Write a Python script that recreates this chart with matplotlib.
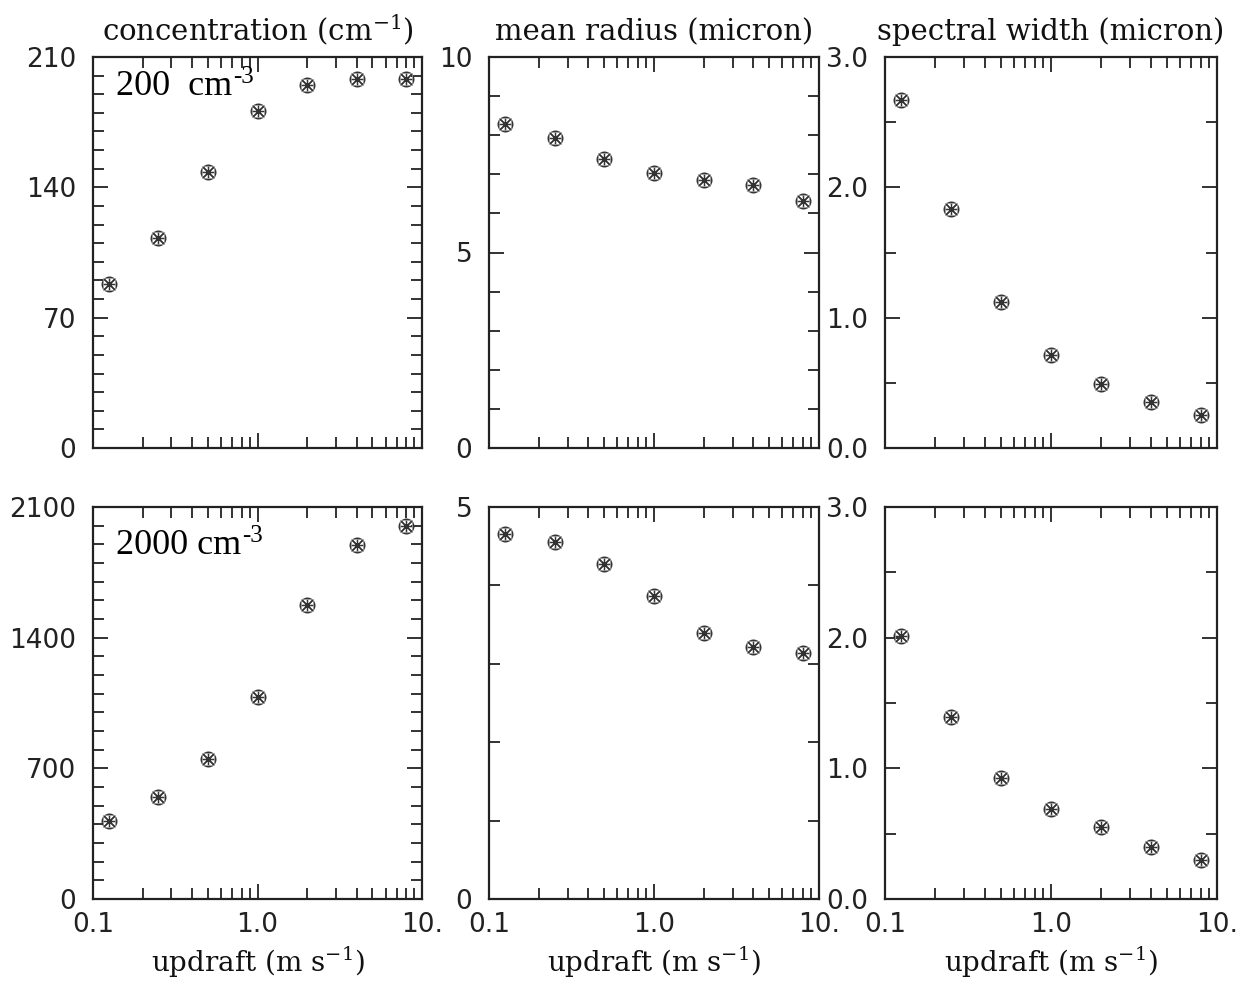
import numpy as np
import matplotlib
matplotlib.use("Agg")
import matplotlib.pyplot as plt
from matplotlib.ticker import MultipleLocator, FixedLocator, NullFormatter, FixedFormatter

plt.rcParams['mathtext.fontset'] = 'dejavuserif'

updraft = [0.125, 0.25, 0.5, 1.0, 2.0, 4.0, 8.0]

conc_200 = [88, 113, 148, 181, 195, 198, 198]
radius_200 = [8.28, 7.92, 7.40, 7.04, 6.86, 6.73, 6.32]
width_200 = [2.67, 1.835, 1.12, 0.71, 0.49, 0.35, 0.255]

conc_2000 = [416, 545, 751, 1080, 1577, 1895, 1998]
radius_2000 = [4.65, 4.55, 4.27, 3.86, 3.39, 3.21, 3.14]
width_2000 = [2.01, 1.39, 0.925, 0.69, 0.55, 0.40, 0.30]

col_titles = ["concentration (cm$^{-1}$)", "mean radius (micron)", "spectral width (micron)"]
x_label = "updraft (m s$^{-1}$)"
x_ticklabels = ["0.1", "1.0", "10."]
row_labels = ["200  cm", "2000 cm"]
row_label_sup = "-3"

# per-panel y settings: (ymax, major ticks, labels, minor step)
yspec = [
    [(210, [0, 70, 140, 210], ["0", "70", "140", "210"], 10),
     (10, [0, 5, 10], ["0", "5", "10"], 1),
     (3.0, [0, 1, 2, 3], ["0.0", "1.0", "2.0", "3.0"], 0.5)],
    [(2100, [0, 700, 1400, 2100], ["0", "700", "1400", "2100"], 100),
     (5, [0, 5], ["0", "5"], 1),
     (3.0, [0, 1, 2, 3], ["0.0", "1.0", "2.0", "3.0"], 0.5)],
]
data = [[conc_200, radius_200, width_200], [conc_2000, radius_2000, width_2000]]

W, H = 1246, 984
fig = plt.figure(figsize=(W / 100, H / 100), dpi=100)

col_x = [(93, 422), (489, 819), (885, 1217)]
row_y = [(57, 448), (507, 899)]

for r in range(2):
    for c in range(3):
        x0, x1 = col_x[c]
        y0, y1 = row_y[r]
        ax = fig.add_axes([x0 / W, 1 - y1 / H, (x1 - x0) / W, (y1 - y0) / H])
        ax.set_xscale("log")
        ax.set_xlim(0.1, 10)
        ymax, majors, labels, mstep = yspec[r][c]
        ax.set_ylim(0, ymax)
        ax.yaxis.set_major_locator(FixedLocator(majors))
        ax.yaxis.set_major_formatter(FixedFormatter(labels))
        ax.yaxis.set_minor_locator(MultipleLocator(mstep))
        ax.xaxis.set_major_locator(FixedLocator([0.1, 1.0, 10.0]))
        ax.xaxis.set_major_formatter(FixedFormatter(x_ticklabels))
        minors = [m * 10.0 ** e for e in (-1, 0) for m in range(2, 10)]
        ax.xaxis.set_minor_locator(FixedLocator(minors))
        ax.xaxis.set_minor_formatter(NullFormatter())
        ax.tick_params(which="both", direction="in", top=True, right=True,
                       width=1.3, color="#222222")
        ax.tick_params(which="major", length=11)
        ax.tick_params(which="minor", length=8)
        ax.tick_params(axis="y", which="major", pad=12)
        ax.tick_params(axis="x", which="major", pad=9)
        for lab in ax.get_xticklabels() + ax.get_yticklabels():
            lab.set_fontfamily("DejaVu Sans")
            lab.set_fontsize(19)
            lab.set_color("#222222")
        if r == 0:
            ax.set_xticklabels([])
        for sp in ax.spines.values():
            sp.set_linewidth(1.6)
            sp.set_color("#222222")
        y = data[r][c]
        ax.plot(updraft, y, linestyle="none", marker="o", markersize=10.5,
                markerfacecolor="none", markeredgecolor="#333333",
                markeredgewidth=1.0, clip_on=False)
        ax.plot(updraft, y, linestyle="none", marker=(8, 2, 0), markersize=10.5,
                markeredgecolor="#333333", markeredgewidth=0.9, clip_on=False)
        ax.plot(updraft, y, linestyle="none", marker="s", markersize=8.5,
                markerfacecolor="none", markeredgecolor="#999999",
                markeredgewidth=0.6, clip_on=False)
        if r == 0:
            ax.set_title(col_titles[c], fontfamily="DejaVu Serif", fontsize=21,
                         pad=12, color="#111111")
        if r == 1:
            ax.set_xlabel(x_label, fontfamily="DejaVu Serif", fontsize=20,
                          labelpad=5, color="#111111")
        if c == 0:
            t = ax.text(0.07, 0.902 if r == 0 else 0.881, row_labels[r],
                        transform=ax.transAxes, fontfamily="Liberation Serif",
                        fontsize=26, ha="left", va="baseline", color="black")
            fig.canvas.draw()
            bb = t.get_window_extent()
            inv = ax.transAxes.inverted()
            xr, ytop = inv.transform((bb.x1, bb.y1))
            ax.text(xr + 0.003, ytop + 0.01, row_label_sup, transform=ax.transAxes,
                    fontfamily="Liberation Serif", fontsize=18, ha="left",
                    va="top", color="black")

fig.savefig("out.png", dpi=100)
